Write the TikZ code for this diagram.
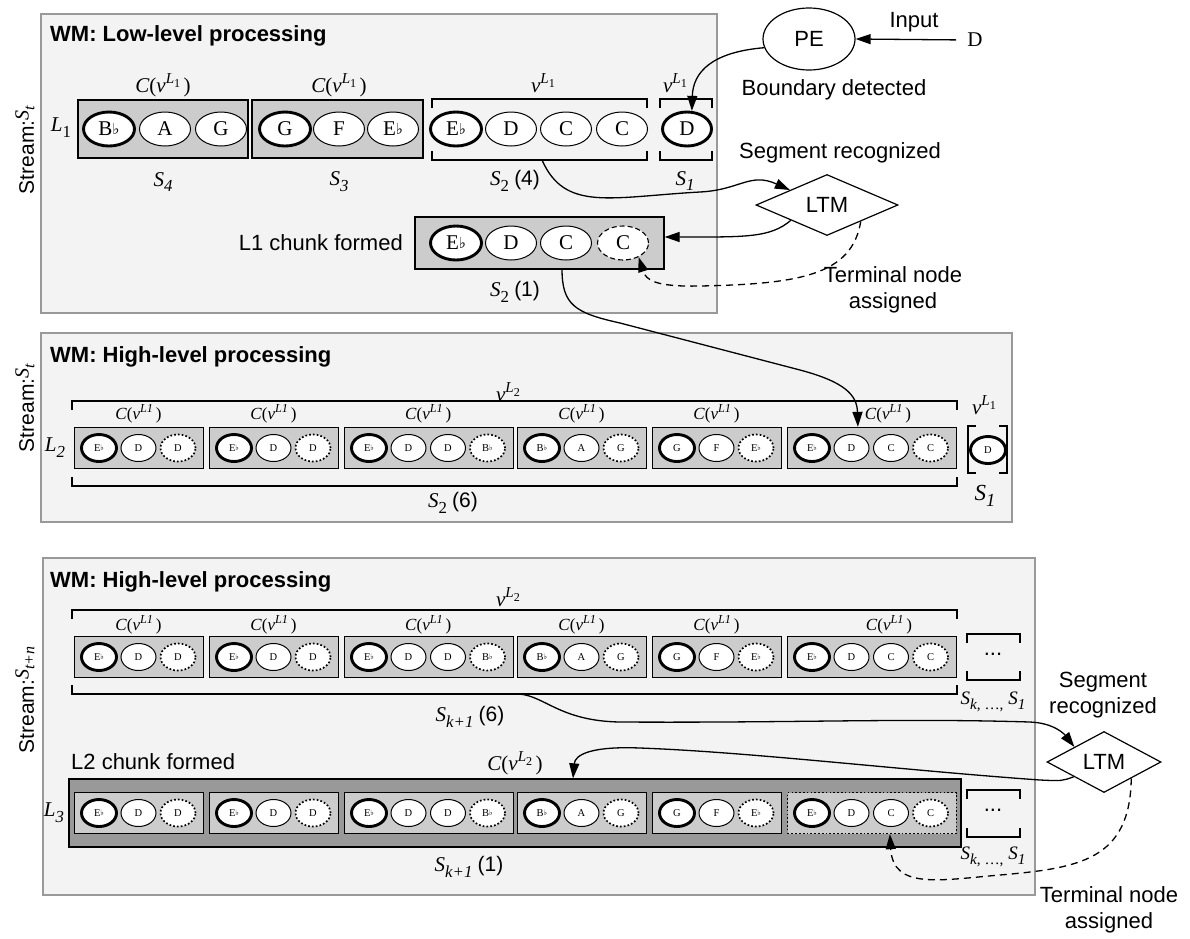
\documentclass[tikz,border=0pt]{standalone}
\usepackage{fontspec}
\setmainfont{Liberation Serif}
\setsansfont{Liberation Sans}
\newfontfamily\flatfont{DejaVu Sans}
\usepackage{graphicx}
\usetikzlibrary{shapes.geometric,arrows.meta}
\definecolor{panelfill}{HTML}{F3F3F3}
\definecolor{panelline}{HTML}{999999}
\definecolor{chunkfill}{HTML}{CCCCCC}
\definecolor{bigfill}{HTML}{999999}
\newcommand\mysup[1]{\raisebox{0.42em}{\scalebox{0.72}{#1}}}
\newcommand\mysub[1]{\raisebox{-0.28em}{\scalebox{0.8}{#1}}}
\newcommand\flt{\raisebox{0.05em}{\scalebox{0.72}{\flatfont ♭}}}
\newcommand\Eb{E\flt}
\newcommand\Bb{B\flt}
\newcommand\CvA{\textit{C}(\textit{v}\mysup{\textit{L}\mysub{1}}\,)}
\newcommand\CvB{\textit{C}(\textit{v}\mysup{\textit{L1}}\,)}
\newcommand\CvC{\textit{C}(\textit{v}\mysup{\textit{L}\mysub{2}}\,)}
\newcommand\vA{\textit{v}\mysup{\textit{L}\mysub{1}}}
\newcommand\vB{\textit{v}\mysup{\textit{L}\mysub{2}}}
\newcommand\streamS[1]{\raisebox{0.25em}{\rmfamily\fontsize{20}{20}\selectfont\textit{S}\mysub{\textit{#1}}}}
\newcommand\sfn[1]{{\sffamily #1}}
\tikzset{
 panel/.style={draw=panelline, fill=panelfill, line width=1.2},
 title/.style={font=\sffamily\bfseries\fontsize{22}{26}\selectfont, anchor=west, inner sep=0},
 stream/.style={font=\sffamily\fontsize{21}{24}\selectfont, rotate=90, inner sep=0},
 sflab/.style={font=\sffamily\fontsize{22}{26}\selectfont, inner sep=0},
 serlab/.style={font=\fontsize{21}{24}\selectfont, inner sep=0},
 smlab/.style={font=\fontsize{17}{20}\selectfont, inner sep=0},
 cbox/.style={draw, fill=chunkfill, line width=1.3, minimum height=41, inner sep=0},
 bigE/.style={ellipse, draw, fill=white, line width=1, minimum width=51, minimum height=34, inner sep=0, font=\fontsize{21}{21}\selectfont},
 smallE/.style={ellipse, draw, fill=white, line width=1, minimum width=35, minimum height=27, inner sep=0, font=\fontsize{10.5}{11}\selectfont},
 first/.style={line width=2.9},
 mid/.style={},
 last/.style={line width=1.7, dash pattern=on 1.7pt off 2.1pt},
 lastdash/.style={line width=1.1, dash pattern=on 5pt off 3pt},
 apply/.style={#1},
 conn/.style={line width=1.3, -{Triangle[length=15pt,width=10pt]}},
 dconn/.style={conn, dash pattern=on 7pt off 5pt},
 brk/.style={line width=1.3},
 ltm/.style={diamond, draw, line width=1.2, aspect=2.3, inner sep=0, font=\sffamily\fontsize{22}{26}\selectfont},
}
\newcommand\hbrk[4]{%
 \draw[brk] (#1,#3+9) -- (#1,#3) -- (#2,#3) -- (#2,#3+9);
 \draw[brk] (#1,#4-9) -- (#1,#4) -- (#2,#4) -- (#2,#4-9);}
\newcommand\smallchunk[6][]{%
 \node[cbox, #1, minimum width={50+(#5-1)*39.5}, anchor=west] (#2) at (#3,#4) {};
 \foreach \nt/\st [count=\i] in {#6}
   \node[smallE, apply/.expand once=\st] (#2-\i) at ({#3+25+(\i-1)*39.5},#4) {\nt};
}
\begin{document}
\begin{tikzpicture}[x=1pt,y=-1pt]
\useasboundingbox (0,0) rectangle (1190,938);

% ---------------- Panel 1 ----------------
\draw[panel] (41,14) rectangle (717,313);
\node[title] (t1) at (50,36) {WM: Low-level processing};
\node[stream] (st1) at (25,150) {Stream:\streamS{t}};
\node[serlab] (l1) at (61,128) {\textit{L}\mysub{1}};

\node[cbox, minimum width=170, minimum height=58] (s4) at (163,129) {};
\node[bigE, first] (s4-1) at (109,129) {\Bb};
\node[bigE] (s4-2) at (165,129) {A};
\node[bigE] (s4-3) at (221,129) {G};
\node[cbox, minimum width=171, minimum height=58] (s3) at (337.5,129) {};
\node[bigE, first] (s3-1) at (285,129) {G};
\node[bigE] (s3-2) at (339,129) {F};
\node[bigE] (s3-3) at (393,129) {\Eb};

\hbrk{432}{647}{99}{160}
\node[bigE, first] (s2-1) at (456,129) {\Eb};
\node[bigE] (s2-2) at (511,129) {D};
\node[bigE] (s2-3) at (566,129) {C};
\node[bigE] (s2-4) at (622,129) {C};
\hbrk{660}{712}{99}{160}
\node[bigE, first, minimum width=49] (d1) at (687,129) {D};

\node[serlab] (c4) at (163,85) {\CvA};
\node[serlab] (c3) at (339,85) {\CvA};
\node[serlab] (v2) at (543,83) {\vA};
\node[serlab] (v1) at (675,83) {\vA};
\node[serlab] (lS4) at (163,182) {\textit{S}\mysub{\textit{4}}};
\node[serlab] (lS3) at (339,182) {\textit{S}\mysub{\textit{3}}};
\node[serlab] (lS24) at (515,181) {\textit{S}\mysub{2} \sfn{(4)}};
\node[serlab] (lS1) at (685,181) {\textit{S}\mysub{\textit{1}}};

\node[cbox, minimum width=249, minimum height=52] (ch1) at (539.5,243) {};
\node[bigE, first] (ch1-1) at (456,243) {\Eb};
\node[bigE] (ch1-2) at (511,243) {D};
\node[bigE] (ch1-3) at (566,243) {C};
\node[bigE, lastdash] (ch1-4) at (623,243) {C};
\node[sflab, anchor=east] (l1cf) at (403,243) {L1 chunk formed};
\node[serlab] (lS21) at (515,292) {\textit{S}\mysub{2} \sfn{(1)}};

\node[ellipse, draw, line width=1.2, minimum width=92, minimum height=62, sflab] (pe) at (809,39) {PE};
\node[sflab] (inp) at (914,22) {Input};
\node[serlab] (din) at (975,40) {D};
\node[sflab] (bd) at (834,90) {Boundary detected};
\node[sflab] (sr1) at (840,153) {Segment recognized};
\node[ltm, minimum width=142, minimum height=61] (ltm1) at (827,205) {LTM};
\node[sflab, align=center] (tn1) at (893,290) {Terminal node\\assigned};

% ---------------- Panel 2 ----------------
\draw[panel] (41,333) rectangle (1012,522);
\node[title] (t2) at (50,357) {WM: High-level processing};
\node[stream] (st2) at (25,408) {Stream:\streamS{t}};
\node[serlab] (vl2a) at (508,392) {\vB};
\hbrk{72}{957}{401}{486}
\node[serlab] (l2) at (55,448) {\textit{L}\mysub{\textit{2}}};
\smallchunk{p2b1}{74}{448}{3}{\Eb/first, D/mid, D/last}
\smallchunk{p2b2}{209}{448}{3}{\Eb/first, D/mid, D/last}
\smallchunk{p2b3}{344}{448}{4}{\Eb/first, D/mid, D/mid, \Bb/last}
\smallchunk{p2b4}{517}{448}{3}{\Bb/first, A/mid, G/last}
\smallchunk{p2b5}{652}{448}{3}{G/first, F/mid, \Eb/last}
\smallchunk{p2b6}{787}{448}{4}{\Eb/first, D/mid, C/mid, C/last}
\foreach \c [count=\i] in {138.5,273.5,428.25,581.5,716.5,888}
  \node[smlab] (p2c\i) at (\c,414) {\CvB};
\node[serlab] (v1b) at (984,405) {\vA};
\draw[brk] (976,426) -- (968,426) -- (968,473) -- (976,473);
\draw[brk] (999,426) -- (1007,426) -- (1007,473) -- (999,473);
\node[smallE, first] (d2) at (988,450) {D};
\node[serlab, font=\fontsize{23}{24}\selectfont] (lS1b) at (985,496) {\textit{S}\mysub{\textit{1}}};
\node[serlab] (lS26) at (453,503) {\textit{S}\mysub{2} \sfn{(6)}};

% ---------------- Panel 3 ----------------
\draw[panel] (43,558) rectangle (1035,895);
\node[title] (t3) at (50,582) {WM: High-level processing};
\node[stream] (st3) at (25,700) {Stream:\streamS{t+n}};
\node[serlab] (vl2b) at (508,597) {\vB};
\hbrk{72}{957}{610}{694}
\smallchunk{p3a1}{74}{657}{3}{\Eb/first, D/mid, D/last}
\smallchunk{p3a2}{209}{657}{3}{\Eb/first, D/mid, D/last}
\smallchunk{p3a3}{344}{657}{4}{\Eb/first, D/mid, D/mid, \Bb/last}
\smallchunk{p3a4}{517}{657}{3}{\Bb/first, A/mid, G/last}
\smallchunk{p3a5}{652}{657}{3}{G/first, F/mid, \Eb/last}
\smallchunk{p3a6}{787}{657}{4}{\Eb/first, D/mid, C/mid, C/last}
\foreach \c [count=\i] in {138.5,273.5,428.25,581.5,716.5,889}
  \node[smlab] (p3c\i) at (\c,625) {\CvB};
\hbrk{967}{1020}{634}{680}
\node[sflab] (dots1) at (993,654) {...};
\node[smlab, font=\fontsize{19}{20}\selectfont] (skA) at (993,702) {\textit{S}\mysub{\textit{k}, …,} \textit{S}\mysub{\textit{1}}};
\node[serlab] (lSk6) at (470,717) {\textit{S}\mysub{\textit{k+1}} \sfn{(6)}};

\node[sflab, anchor=west] (l2cf) at (71,762) {L2 chunk formed};
\node[serlab] (cl2) at (515,763) {\CvC};
\node[draw, fill=bigfill, line width=1.3, minimum width=892, minimum height=68, inner sep=0] (l3box) at (515,813) {};
\node[serlab] (l3) at (54,813) {\textit{L}\mysub{\textit{3}}};
\smallchunk{p3b1}{74}{813}{3}{\Eb/first, D/mid, D/last}
\smallchunk{p3b2}{209}{813}{3}{\Eb/first, D/mid, D/last}
\smallchunk{p3b3}{344}{813}{4}{\Eb/first, D/mid, D/mid, \Bb/last}
\smallchunk{p3b4}{517}{813}{3}{\Bb/first, A/mid, G/last}
\smallchunk{p3b5}{652}{813}{3}{G/first, F/mid, \Eb/last}
\smallchunk[dash pattern=on 1.7pt off 2.1pt, line width=1.3]{p3b6}{787}{813}{4}{\Eb/first, D/mid, C/mid, C/last}
\hbrk{967}{1020}{790}{837}
\node[sflab] (dots2) at (993,810) {...};
\node[smlab, font=\fontsize{19}{20}\selectfont] (skB) at (993,857) {\textit{S}\mysub{\textit{k}, …,} \textit{S}\mysub{\textit{1}}};
\node[serlab] (lSk1) at (469,867) {\textit{S}\mysub{\textit{k+1}} \sfn{(1)}};

\node[sflab, align=center] (sr2) at (1103,695) {Segment\\recognized};
\node[ltm, minimum width=114, minimum height=61] (ltm2) at (1104,762) {LTM};
\node[sflab, align=center] (tn2) at (1109,910) {Terminal node\\assigned};

% ---------------- Connectors ----------------
\coordinate (s24b) at (542,160);
\coordinate (s21b) at (562,269);
\coordinate (skb) at (519,694);
\draw[conn, shorten <=11pt] (din.west) -- (pe.east);
\draw[conn] (pe.191) .. controls (712,52) and (693,72) .. (d1.75);
\draw[conn] (s24b) .. controls (565,212) and (610,197) .. (700,192) .. controls (740,190) and (750,172) .. (ltm1.158);
\draw[conn] (ltm1.203) .. controls (770,238) and (745,237) .. ([yshift=6pt]ch1.east);
\draw[dconn] (ltm1.334) .. controls (852,275) and (800,284) .. (700,286) .. controls (655,287) and (646,280) .. (ch1-4.-42);
\draw[conn] (s21b) .. controls (562,305) and (575,313) .. (620,323) -- (800,370) .. controls (845,382) and (857,395) .. ([xshift=-14pt]p2b6.north);
\draw[conn] (skb) .. controls (545,696) and (560,721) .. (620,722) .. controls (800,723) and (900,718) .. (1030,722) .. controls (1055,723) and (1065,735) .. (ltm2.153);
\draw[conn] (ltm2.206) .. controls (1062,781) .. (1040,780) .. controls (900,770) and (750,752) .. (640,748) .. controls (590,746) and (575,755) .. ([xshift=58pt]l3box.north);
\draw[dconn] (ltm2.329) .. controls (1130,860) and (1080,868) .. (1000,875) .. controls (940,880) and (893,890) .. ([xshift=18pt]p3b6.south);
\end{tikzpicture}
\end{document}
